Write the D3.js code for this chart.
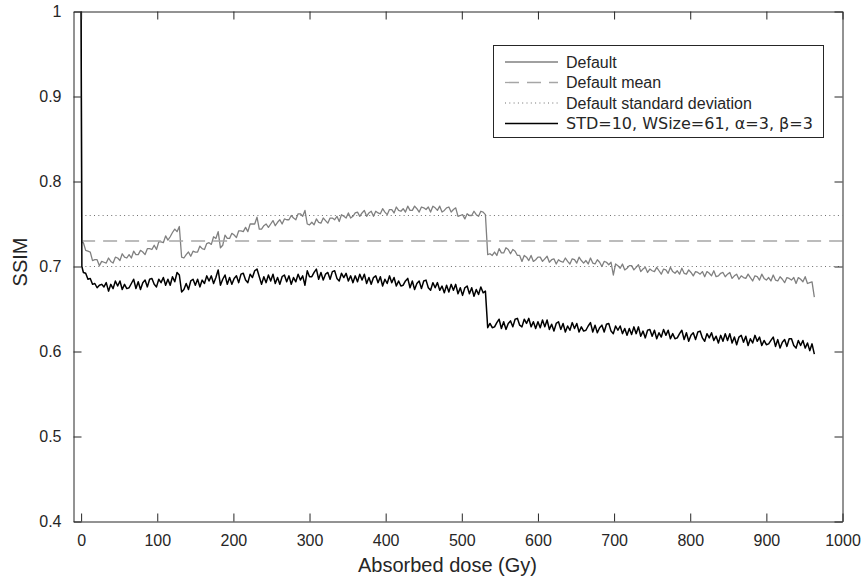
<!DOCTYPE html>
<html>
<head>
<meta charset="utf-8">
<script src="https://cdn.jsdelivr.net/npm/d3@7"></script>
<style>
  body { margin: 0; background: #fff; }
  text { font-family: "Liberation Sans", Arial, sans-serif; fill: #262626; }
</style>
</head>
<body>
<script>
// SSIM vs absorbed dose (every 3 Gy, plus doses 0 and 1)
const doses = [0, 1].concat(d3.range(3, 964, 3));

const defaultSsim = [
  1.000, 0.728,
  0.728, 0.719, 0.718, 0.717, 0.707, 0.708, 0.708, 0.701, 0.706, 0.705,
  0.704, 0.710, 0.706, 0.704, 0.711, 0.710, 0.707, 0.715, 0.711, 0.710,
  0.714, 0.710, 0.718, 0.714, 0.714, 0.719, 0.717, 0.714, 0.721, 0.721,
  0.720, 0.725, 0.720, 0.729, 0.729, 0.728, 0.736, 0.731, 0.735, 0.740,
  0.744, 0.741, 0.747, 0.711, 0.710, 0.714, 0.717, 0.712, 0.718, 0.717,
  0.717, 0.724, 0.721, 0.720, 0.727, 0.728, 0.726, 0.735, 0.733, 0.741,
  0.722, 0.725, 0.737, 0.733, 0.733, 0.739, 0.737, 0.734, 0.742, 0.742,
  0.741, 0.746, 0.741, 0.750, 0.750, 0.750, 0.758, 0.744, 0.744, 0.748,
  0.750, 0.746, 0.750, 0.754, 0.748, 0.752, 0.755, 0.750, 0.756, 0.755,
  0.755, 0.760, 0.757, 0.755, 0.762, 0.762, 0.759, 0.766, 0.750, 0.749,
  0.752, 0.749, 0.756, 0.752, 0.751, 0.757, 0.754, 0.751, 0.757, 0.757,
  0.755, 0.759, 0.753, 0.761, 0.759, 0.757, 0.763, 0.757, 0.759, 0.763,
  0.764, 0.759, 0.763, 0.766, 0.759, 0.763, 0.765, 0.759, 0.765, 0.763,
  0.762, 0.768, 0.764, 0.761, 0.767, 0.767, 0.763, 0.770, 0.766, 0.765,
  0.768, 0.764, 0.771, 0.766, 0.766, 0.771, 0.768, 0.764, 0.770, 0.769,
  0.767, 0.770, 0.764, 0.771, 0.769, 0.766, 0.771, 0.764, 0.766, 0.769,
  0.770, 0.764, 0.767, 0.769, 0.759, 0.760, 0.761, 0.756, 0.762, 0.760,
  0.760, 0.765, 0.761, 0.759, 0.765, 0.764, 0.761, 0.714, 0.715, 0.713,
  0.717, 0.713, 0.721, 0.716, 0.716, 0.722, 0.720, 0.715, 0.720, 0.718,
  0.713, 0.713, 0.706, 0.713, 0.711, 0.707, 0.713, 0.706, 0.708, 0.711,
  0.711, 0.706, 0.709, 0.712, 0.705, 0.708, 0.709, 0.703, 0.708, 0.706,
  0.705, 0.710, 0.706, 0.703, 0.709, 0.708, 0.704, 0.711, 0.707, 0.704,
  0.707, 0.703, 0.710, 0.704, 0.703, 0.708, 0.705, 0.700, 0.706, 0.705,
  0.702, 0.705, 0.690, 0.703, 0.701, 0.698, 0.703, 0.696, 0.698, 0.701,
  0.701, 0.696, 0.699, 0.702, 0.694, 0.697, 0.699, 0.693, 0.697, 0.695,
  0.694, 0.699, 0.695, 0.691, 0.697, 0.696, 0.692, 0.699, 0.694, 0.692,
  0.695, 0.691, 0.698, 0.692, 0.691, 0.696, 0.693, 0.689, 0.694, 0.693,
  0.691, 0.694, 0.688, 0.694, 0.692, 0.689, 0.695, 0.688, 0.689, 0.692,
  0.693, 0.688, 0.691, 0.693, 0.686, 0.689, 0.691, 0.685, 0.689, 0.687,
  0.686, 0.691, 0.687, 0.683, 0.689, 0.688, 0.684, 0.691, 0.686, 0.684,
  0.687, 0.683, 0.690, 0.684, 0.683, 0.688, 0.685, 0.681, 0.687, 0.686,
  0.684, 0.687, 0.680, 0.687, 0.685, 0.682, 0.688, 0.680, 0.681, 0.682,
  0.664
];

const tunedSsim = [
  1.000, 0.700,
  0.693, 0.692, 0.685, 0.686, 0.679, 0.680, 0.675, 0.678, 0.679, 0.676,
  0.681, 0.671, 0.679, 0.674, 0.683, 0.677, 0.683, 0.673, 0.679, 0.674,
  0.675, 0.680, 0.685, 0.674, 0.682, 0.673, 0.681, 0.684, 0.676, 0.685,
  0.686, 0.679, 0.676, 0.685, 0.681, 0.687, 0.678, 0.685, 0.678, 0.688,
  0.682, 0.693, 0.690, 0.670, 0.673, 0.680, 0.673, 0.683, 0.685, 0.678,
  0.685, 0.676, 0.684, 0.680, 0.689, 0.683, 0.689, 0.680, 0.687, 0.696,
  0.678, 0.685, 0.690, 0.679, 0.687, 0.679, 0.686, 0.689, 0.681, 0.691,
  0.692, 0.684, 0.681, 0.691, 0.687, 0.695, 0.697, 0.688, 0.679, 0.688,
  0.681, 0.690, 0.683, 0.691, 0.680, 0.687, 0.679, 0.688, 0.690, 0.682,
  0.689, 0.679, 0.687, 0.682, 0.691, 0.684, 0.689, 0.678, 0.695, 0.688,
  0.688, 0.693, 0.697, 0.685, 0.693, 0.684, 0.691, 0.693, 0.685, 0.694,
  0.695, 0.686, 0.683, 0.692, 0.687, 0.692, 0.683, 0.689, 0.681, 0.689,
  0.682, 0.691, 0.684, 0.691, 0.680, 0.687, 0.679, 0.687, 0.689, 0.681,
  0.688, 0.677, 0.685, 0.680, 0.689, 0.681, 0.687, 0.677, 0.683, 0.677,
  0.678, 0.683, 0.686, 0.675, 0.683, 0.673, 0.680, 0.683, 0.674, 0.683,
  0.684, 0.675, 0.672, 0.681, 0.675, 0.681, 0.672, 0.677, 0.669, 0.678,
  0.670, 0.679, 0.672, 0.679, 0.668, 0.675, 0.666, 0.675, 0.677, 0.668,
  0.675, 0.665, 0.673, 0.667, 0.676, 0.669, 0.671, 0.628, 0.633, 0.628,
  0.629, 0.634, 0.638, 0.627, 0.635, 0.626, 0.633, 0.636, 0.629, 0.638,
  0.639, 0.631, 0.629, 0.638, 0.633, 0.639, 0.629, 0.635, 0.627, 0.635,
  0.628, 0.637, 0.629, 0.637, 0.626, 0.632, 0.624, 0.633, 0.635, 0.626,
  0.633, 0.623, 0.630, 0.625, 0.634, 0.627, 0.633, 0.623, 0.629, 0.624,
  0.625, 0.630, 0.634, 0.623, 0.631, 0.622, 0.628, 0.631, 0.623, 0.632,
  0.633, 0.624, 0.621, 0.630, 0.625, 0.630, 0.621, 0.627, 0.619, 0.627,
  0.620, 0.629, 0.621, 0.629, 0.618, 0.624, 0.616, 0.625, 0.626, 0.618,
  0.625, 0.615, 0.622, 0.617, 0.626, 0.619, 0.625, 0.615, 0.621, 0.615,
  0.616, 0.621, 0.625, 0.614, 0.622, 0.612, 0.619, 0.622, 0.614, 0.623,
  0.624, 0.616, 0.612, 0.621, 0.616, 0.622, 0.613, 0.618, 0.610, 0.619,
  0.612, 0.621, 0.613, 0.621, 0.610, 0.617, 0.608, 0.617, 0.619, 0.611,
  0.618, 0.607, 0.615, 0.610, 0.619, 0.612, 0.617, 0.607, 0.613, 0.608,
  0.609, 0.613, 0.617, 0.606, 0.614, 0.604, 0.611, 0.614, 0.606, 0.615,
  0.615, 0.607, 0.604, 0.613, 0.607, 0.613, 0.604, 0.610, 0.601, 0.609,
  0.597
];

const defaultMean = 0.73;
const defaultStd = 0.03;
const statSpan = [0, 1000];

const xTicks = [0, 100, 200, 300, 400, 500, 600, 700, 800, 900, 1000];
const yTicks = [0.4, 0.5, 0.6, 0.7, 0.8, 0.9, 1];

const legendLabels = ["Default", "Default mean", "Default standard deviation",
  "STD=10, WSize=61, \u03b1=3, \u03b2=3"];

console.log(doses.length, defaultSsim.length, tunedSsim.length);

// size / plot box
const width = 862;
const height = 582;
const boxLeft = 73.5, boxRight = 842.5, boxTop = 11.5, boxBottom = 521.5;
const tickLen = 8;

const svg = d3.select("body").append("svg")
  .attr("width", width)
  .attr("height", height)
  .attr("viewBox", [0, 0, width, height]);

const x = d3.scaleLinear().domain([-10, 1000]).range([boxLeft, boxRight]);
const y = d3.scaleLinear().domain([0.4, 1]).range([boxBottom, boxTop]);

svg.append("clipPath").attr("id", "plot")
  .append("rect")
  .attr("x", boxLeft).attr("y", boxTop)
  .attr("width", boxRight - boxLeft).attr("height", boxBottom - boxTop);

const plot = svg.append("g").attr("clip-path", "url(#plot)");

const line = d3.line()
  .x((d, i) => x(doses[i]))
  .y(d => y(d));

// default run
plot.append("path")
  .datum(defaultSsim)
  .attr("fill", "none")
  .attr("stroke", "#808080")
  .attr("stroke-width", 1.3)
  .attr("stroke-linejoin", "round")
  .attr("d", line);

// mean and +/- std lines
const flat = v => d3.line()(statSpan.map(d => [x(d), y(v)]));

plot.append("path")
  .attr("d", flat(defaultMean))
  .attr("stroke", "#a6a6a6")
  .attr("stroke-width", 1.3)
  .attr("stroke-dasharray", "14,8");

[defaultMean - defaultStd, defaultMean + defaultStd].forEach(v => {
  plot.append("path")
    .attr("d", flat(v))
    .attr("stroke", "#707070")
    .attr("stroke-width", 1)
    .attr("stroke-dasharray", "1,3.3");
});

// tuned run
plot.append("path")
  .datum(tunedSsim)
  .attr("fill", "none")
  .attr("stroke", "#000")
  .attr("stroke-width", 1.5)
  .attr("stroke-linejoin", "round")
  .attr("d", line);

// axes (box with ticks on all sides, pointing in)
const axisColor = "#262626";
const styleAxis = g => {
  g.select(".domain").attr("stroke", axisColor);
  g.selectAll(".tick line").attr("stroke", axisColor);
  g.selectAll(".tick text")
    .attr("fill", axisColor)
    .style("font-size", "16px")
    .style("font-family", "'Liberation Sans', Arial, sans-serif");
};

svg.append("g")
  .attr("transform", `translate(0,${boxBottom})`)
  .call(d3.axisBottom(x).tickValues(xTicks).tickSizeInner(-tickLen).tickSizeOuter(0)
    .tickPadding(13).tickFormat(d3.format("d")))
  .call(styleAxis);

svg.append("g")
  .attr("transform", `translate(0,${boxTop})`)
  .call(d3.axisTop(x).tickValues(xTicks).tickSizeInner(-tickLen).tickSizeOuter(0)
    .tickFormat(""))
  .call(styleAxis);

svg.append("g")
  .attr("transform", `translate(${boxLeft},0)`)
  .call(d3.axisLeft(y).tickValues(yTicks).tickSizeInner(-tickLen).tickSizeOuter(0)
    .tickPadding(12).tickFormat(d => d === 1 ? "1" : d3.format(".1f")(d)))
  .call(styleAxis);

svg.append("g")
  .attr("transform", `translate(${boxRight},0)`)
  .call(d3.axisRight(y).tickValues(yTicks).tickSizeInner(-tickLen).tickSizeOuter(0)
    .tickFormat(""))
  .call(styleAxis);

// axis titles
svg.append("text")
  .attr("x", 447.5)
  .attr("y", 572)
  .attr("text-anchor", "middle")
  .style("font-size", "20px")
  .text("Absorbed dose (Gy)");

svg.append("text")
  .attr("transform", "translate(27,262) rotate(-90)")
  .attr("text-anchor", "middle")
  .style("font-size", "20px")
  .text("SSIM");

// legend
const legend = svg.append("g");
legend.append("rect")
  .attr("x", 493.5).attr("y", 45.5)
  .attr("width", 330).attr("height", 92)
  .attr("fill", "#fff")
  .attr("stroke", axisColor);

const legendStyles = [
  { stroke: "#808080", dash: null, w: 1.3 },
  { stroke: "#a6a6a6", dash: "14,8", w: 1.3 },
  { stroke: "#707070", dash: "1,3.3", w: 1 },
  { stroke: "#000", dash: null, w: 1.5 }
];

legendLabels.forEach((label, i) => {
  const cy = 62 + i * 20.5;
  legend.append("line")
    .attr("x1", 505).attr("x2", 558)
    .attr("y1", cy).attr("y2", cy)
    .attr("stroke", legendStyles[i].stroke)
    .attr("stroke-width", legendStyles[i].w)
    .attr("stroke-dasharray", legendStyles[i].dash);
  legend.append("text")
    .attr("x", 566)
    .attr("y", cy)
    .attr("dy", "0.36em")
    .style("font-size", "16px")
    .style("font-family", i === 3 ? "'DejaVu Sans', sans-serif" : "'Liberation Sans', Arial, sans-serif")
    .text(label);
});
</script>
</body>
</html>
